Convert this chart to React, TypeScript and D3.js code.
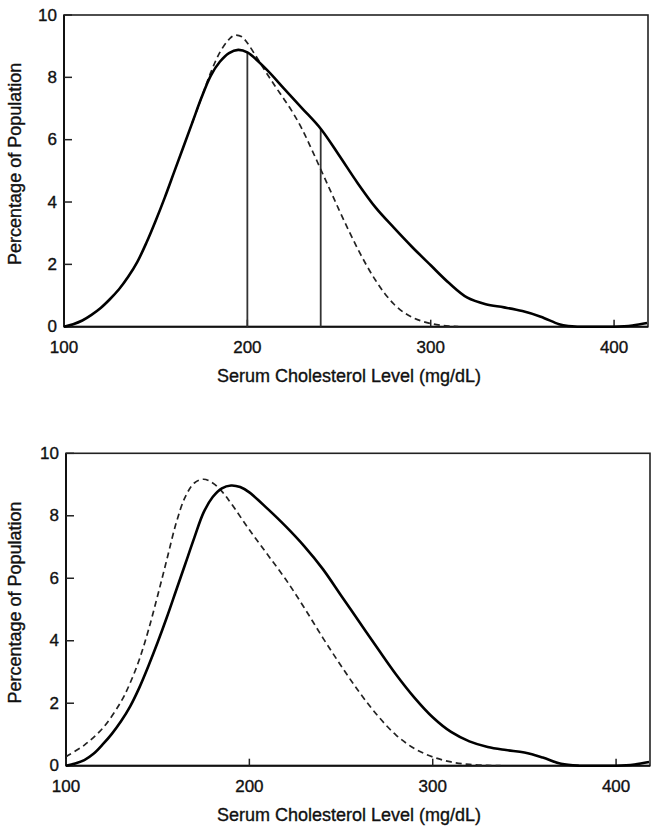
import React from "react";
import * as d3 from "d3";

const xTicks = [100, 200, 300, 400];
const yTicks = [0, 2, 4, 6, 8, 10];
const xDomain = [100, 418.5];
const yDomain = [0, 10];

const topSolidX = [100, 105, 110, 115, 120, 125, 130, 135, 140, 145, 150, 155, 160, 165, 170, 175, 180, 185, 190, 195, 200, 210, 220, 230, 240, 250, 260, 270, 280, 290, 300, 310, 320, 330, 340, 350, 360, 370, 375, 380, 390, 400, 410, 418];
const topSolidY = [0, 0.08, 0.2, 0.38, 0.6, 0.88, 1.2, 1.6, 2.08, 2.7, 3.4, 4.15, 4.95, 5.75, 6.55, 7.35, 8.05, 8.5, 8.78, 8.88, 8.8, 8.28, 7.64, 7.0, 6.35, 5.5, 4.62, 3.82, 3.17, 2.55, 1.97, 1.4, 0.93, 0.72, 0.62, 0.5, 0.32, 0.08, 0.02, 0, 0, 0, 0.04, 0.12];

const topDashX = [170, 175, 180, 185, 190, 193, 197, 200, 205, 210, 215, 220, 225, 230, 235, 240, 245, 250, 255, 260, 265, 270, 275, 280, 285, 290, 295, 300, 305, 310, 315];
const topDashY = [6.55, 7.35, 8.15, 8.8, 9.22, 9.35, 9.3, 9.1, 8.65, 8.18, 7.73, 7.3, 6.85, 6.32, 5.7, 5.05, 4.4, 3.75, 3.12, 2.52, 1.97, 1.48, 1.06, 0.72, 0.47, 0.3, 0.18, 0.1, 0.05, 0.02, 0];

const refLevels = [200, 240];

const botSolidX = [100, 105, 110, 115, 120, 125, 130, 135, 140, 145, 150, 155, 160, 165, 170, 175, 180, 185, 190, 195, 200, 210, 220, 230, 240, 250, 260, 270, 280, 290, 300, 310, 320, 330, 340, 350, 360, 370, 380, 390, 400, 410, 418];
const botSolidY = [0, 0.07, 0.18, 0.38, 0.68, 1.02, 1.42, 1.9, 2.5, 3.2, 3.95, 4.75, 5.6, 6.45, 7.3, 8.1, 8.6, 8.88, 8.97, 8.92, 8.75, 8.22, 7.65, 7.02, 6.3, 5.45, 4.6, 3.75, 2.92, 2.18, 1.55, 1.08, 0.78, 0.6, 0.5, 0.42, 0.26, 0.06, 0, 0, 0, 0.04, 0.12];

const botDashX = [100, 110, 120, 130, 135, 140, 145, 150, 155, 160, 165, 170, 175, 180, 185, 190, 200, 210, 220, 230, 240, 250, 260, 270, 280, 290, 300, 310, 320, 330, 337];
const botDashY = [0.29, 0.66, 1.2, 2.05, 2.65, 3.4, 4.35, 5.45, 6.6, 7.75, 8.6, 9.05, 9.17, 9.05, 8.78, 8.4, 7.55, 6.75, 5.95, 5.05, 4.1, 3.2, 2.35, 1.6, 0.98, 0.55, 0.28, 0.12, 0.04, 0.01, 0];

const xLabel = "Serum Cholesterol Level (mg/dL)";
const yLabel = "Percentage of Population";

const FONT = "'Liberation Sans', Arial, Helvetica, sans-serif";

type PanelProps = {
  left: number;
  right: number;
  top: number;
  bottom: number;
  solidX: number[];
  solidY: number[];
  dashX: number[];
  dashY: number[];
  refs: number[];
};

function interp(xs: number[], ys: number[], v: number) {
  const i = d3.bisectLeft(xs, v);
  if (i <= 0) return ys[0];
  if (i >= xs.length) return ys[ys.length - 1];
  const t = (v - xs[i - 1]) / (xs[i] - xs[i - 1]);
  return ys[i - 1] + t * (ys[i] - ys[i - 1]);
}

const textStyle = { fontFamily: FONT, fill: "#111", stroke: "#111", strokeWidth: 0.35 };

function Panel(p: PanelProps) {
  const x = d3.scaleLinear().domain(xDomain).range([p.left, p.right]);
  const y = d3.scaleLinear().domain(yDomain).range([p.bottom, p.top]);
  const line = d3
    .line<[number, number]>()
    .x((d) => x(d[0]))
    .y((d) => Math.min(y(d[1]), p.bottom))
    .curve(d3.curveCatmullRom.alpha(0.5));
  const solid = line(p.solidX.map((v, i) => [v, p.solidY[i]]) as [number, number][]) || "";
  const dash = line(p.dashX.map((v, i) => [v, p.dashY[i]]) as [number, number][]) || "";
  const midY = (p.top + p.bottom) / 2 - 7;
  const midX = 349;
  return (
    <g>
      <rect x={p.left} y={p.top} width={p.right - p.left} height={p.bottom - p.top} fill="none" stroke="#222" strokeWidth={1.6} />
      <line x1={p.left} x2={p.right} y1={p.bottom} y2={p.bottom} stroke="#111" strokeWidth={2} />
      <line x1={p.left} x2={p.left} y1={p.top} y2={p.bottom} stroke="#111" strokeWidth={2} />
      {yTicks.map((t) => (
        <g key={"y" + t}>
          <line x1={p.left} x2={p.left + 8} y1={y(t)} y2={y(t)} stroke="#222" strokeWidth={1.5} />
          <text x={p.left - 7} y={y(t)} textAnchor="end" dominantBaseline="central" fontSize={17} style={textStyle}>
            {t}
          </text>
        </g>
      ))}
      {xTicks.map((t) => (
        <g key={"x" + t}>
          <line x1={x(t)} x2={x(t)} y1={p.bottom} y2={p.bottom - 7} stroke="#222" strokeWidth={1.5} />
          <text x={x(t)} y={p.bottom + 21} textAnchor="middle" dominantBaseline="central" fontSize={17} style={textStyle}>
            {t}
          </text>
        </g>
      ))}
      {p.refs.map((r) => (
        <line key={"r" + r} x1={x(r)} x2={x(r)} y1={p.bottom} y2={y(interp(p.solidX, p.solidY, r))} stroke="#333" strokeWidth={1.8} />
      ))}
      <path d={dash} fill="none" stroke="#222" strokeWidth={1.7} strokeDasharray="6,4" />
      <path d={solid} fill="none" stroke="#000" strokeWidth={2.6} strokeLinejoin="round" />
      <text x={midX} y={p.bottom + 49} textAnchor="middle" dominantBaseline="central" fontSize={18} style={textStyle}>
        {xLabel}
      </text>
      <text transform={`translate(15,${midY}) rotate(-90)`} textAnchor="middle" dominantBaseline="central" fontSize={18} style={textStyle}>
        {yLabel}
      </text>
    </g>
  );
}

export default function App() {
  return (
    <svg width={653} height={830} style={{ position: "absolute", left: 0, top: 0, background: "#fff" }}>
      <rect width={653} height={830} fill="#fff" />
      <Panel left={64} right={648} top={15} bottom={326.7} solidX={topSolidX} solidY={topSolidY} dashX={topDashX} dashY={topDashY} refs={refLevels} />
      <Panel left={66} right={650} top={453.3} bottom={765.7} solidX={botSolidX} solidY={botSolidY} dashX={botDashX} dashY={botDashY} refs={[]} />
    </svg>
  );
}
